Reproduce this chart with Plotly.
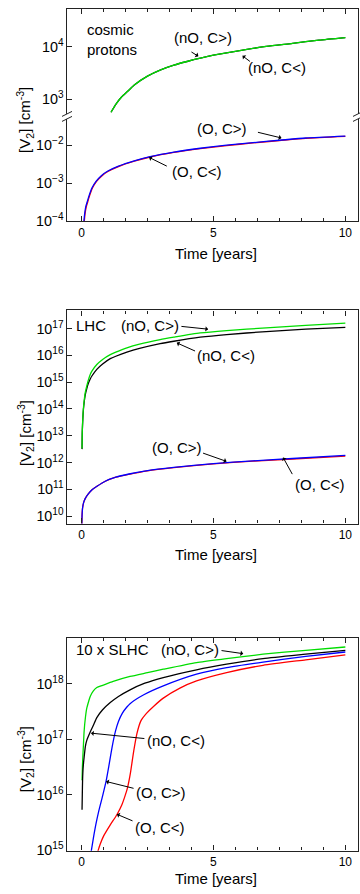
import plotly.graph_objects as go

FONT = "Liberation Sans, Arial, sans-serif"

# ---------------- data (time in years, [V2] in cm^-3) ----------------
# Panel 1: cosmic protons
p1_t_nO = [1.12, 1.3, 1.5, 1.75, 2.0, 2.5, 3.0, 3.5, 4.0, 5.0, 6.0, 7.0, 8.0, 9.0, 10.0]
p1_v_nO_gt = [5.6e2, 7.9e2, 1.07e3, 1.41e3, 1.86e3, 2.75e3, 3.63e3, 4.47e3, 5.25e3, 6.92e3,
              8.51e3, 1.02e4, 1.17e4, 1.35e4, 1.51e4]
p1_v_nO_lt = [5.6e2, 7.9e2, 1.07e3, 1.41e3, 1.86e3, 2.75e3, 3.63e3, 4.47e3, 5.25e3, 6.92e3,
              8.51e3, 1.02e4, 1.17e4, 1.35e4, 1.51e4]
p1_t_O_gt = [0.085, 0.12, 0.16, 0.22, 0.30, 0.40, 0.55, 0.75, 1.0, 1.4, 2.0, 2.6, 3.5, 4.5,
             5.5, 6.5, 7.5, 8.5, 10.0]
p1_v_O_gt = [8.9e-5, 1.58e-4, 2.40e-4, 3.31e-4, 5.01e-4, 7.59e-4, 1.12e-3, 1.58e-3, 2.09e-3,
             2.82e-3, 3.89e-3, 5.01e-3, 6.61e-3, 8.32e-3, 1.00e-2, 1.17e-2, 1.35e-2, 1.55e-2, 1.74e-2]
p1_t_O_lt = [0.10, 0.135, 0.18, 0.24, 0.32, 0.42, 0.57, 0.78, 1.0, 1.4, 2.0, 2.6, 3.5, 4.5,
             5.5, 6.5, 7.5, 8.5, 10.0]
p1_v_O_lt = [8.9e-5, 1.58e-4, 2.40e-4, 3.31e-4, 5.01e-4, 7.59e-4, 1.12e-3, 1.58e-3, 2.04e-3,
             2.75e-3, 3.80e-3, 4.90e-3, 6.46e-3, 8.13e-3, 9.77e-3, 1.15e-2, 1.32e-2, 1.51e-2, 1.70e-2]

# Panel 2: LHC
p2_t_nO = [0.02, 0.03, 0.05, 0.07, 0.1, 0.14, 0.2, 0.25, 0.33, 0.4, 0.58, 0.8, 1.09, 1.3, 1.72,
           2.2, 2.98, 3.5, 4.5, 5.5, 7.0, 8.5, 10.0]
p2_v_nO_gt = [3.31e12, 1.58e13, 4.79e13, 1.00e14, 2.00e14, 3.98e14, 7.24e14, 1.12e15, 1.95e15,
              2.63e15, 4.57e15, 7.08e15, 1.07e16, 1.32e16, 1.91e16, 2.63e16, 3.89e16, 4.79e16,
              6.92e16, 8.51e16, 1.07e17, 1.32e17, 1.62e17]
p2_v_nO_lt = [3.16e12, 1.48e13, 4.27e13, 8.91e13, 1.74e14, 3.31e14, 5.75e14, 8.51e14, 1.32e15,
              1.74e15, 3.02e15, 4.79e15, 7.59e15, 9.33e15, 1.32e16, 1.82e16, 2.75e16, 3.39e16,
              4.79e16, 6.03e16, 7.76e16, 9.55e16, 1.12e17]
p2_t_O = [0.01, 0.02, 0.04, 0.08, 0.14, 0.25, 0.4, 0.6, 0.9, 1.3, 1.8, 2.5, 3.5, 5.0, 6.5, 8.0, 10.0]
p2_v_O_gt = [3.98e9, 1.00e10, 2.00e10, 3.16e10, 4.47e10, 6.61e10, 9.55e10, 1.32e11, 2.00e11,
             2.82e11, 3.72e11, 5.01e11, 6.61e11, 9.12e11, 1.15e12, 1.41e12, 1.86e12]
p2_v_O_lt = [3.98e9, 1.00e10, 2.00e10, 3.16e10, 4.47e10, 6.61e10, 9.55e10, 1.32e11, 2.00e11,
             2.82e11, 3.63e11, 4.90e11, 6.46e11, 8.91e11, 1.12e12, 1.35e12, 1.74e12]

# Panel 3: 10 x SLHC
p3_t_nO_gt = [0.02, 0.035, 0.05, 0.075, 0.1, 0.15, 0.2, 0.27, 0.33, 0.45, 0.58, 0.8, 1.2, 1.84,
              2.5, 3.1, 4.36, 5.5, 6.88, 8.5, 10.0]
p3_v_nO_gt = [1.82e16, 3.16e16, 4.79e16, 8.32e16, 1.41e17, 2.51e17, 3.63e17, 4.79e17, 5.89e17,
              7.41e17, 8.51e17, 9.33e17, 1.10e18, 1.35e18, 1.58e18, 1.82e18, 2.40e18, 2.82e18,
              3.39e18, 3.98e18, 4.57e18]
p3_t_nO_lt = [0.02, 0.03, 0.04, 0.06, 0.1, 0.15, 0.2, 0.33, 0.45, 0.58, 0.8, 1.09, 1.4, 1.84,
              2.4, 3.1, 4.36, 5.5, 6.88, 8.5, 10.0]
p3_v_nO_lt = [5.37e15, 1.00e16, 1.82e16, 3.02e16, 4.79e16, 7.59e16, 9.55e16, 1.35e17, 1.78e17,
              2.45e17, 3.39e17, 4.57e17, 5.89e17, 7.76e17, 1.02e18, 1.29e18, 1.78e18, 2.24e18,
              2.82e18, 3.39e18, 3.98e18]
p3_t_O_gt = [0.35, 0.45, 0.55, 0.66, 0.8, 0.93, 1.03, 1.16, 1.29, 1.4, 1.55, 1.72, 1.84, 2.36,
             3.1, 4.36, 5.5, 6.88, 8.5, 10.0]
p3_v_O_gt = [8.51e14, 1.66e15, 3.02e15, 5.25e15, 9.55e15, 1.74e16, 3.16e16, 7.24e16, 1.41e17,
             2.09e17, 2.95e17, 3.80e17, 4.37e17, 6.31e17, 9.12e17, 1.48e18, 1.95e18, 2.45e18,
             3.09e18, 3.72e18]
p3_t_O_lt = [0.6, 0.7, 0.84, 1.09, 1.34, 1.53, 1.65, 1.75, 1.85, 1.98, 2.1, 2.25, 2.47, 2.75,
             3.1, 3.73, 4.36, 5.5, 6.88, 8.5, 10.0]
p3_v_O_lt = [8.91e14, 1.26e15, 1.82e15, 2.88e15, 4.37e15, 6.61e15, 9.55e15, 1.38e16, 2.40e16,
             6.17e16, 1.26e17, 2.14e17, 2.95e17, 3.98e17, 5.50e17, 8.32e17, 1.12e18, 1.58e18,
             2.14e18, 2.69e18, 3.31e18]

x_ticks = [0, 5, 10]

GREEN, BLACK, BLUE, RED = "#00dd00", "#000000", "#0000ff", "#ff0000"

fig = go.Figure()


def add(t, v, color, xa, ya):
    fig.add_trace(go.Scatter(x=t, y=v, mode="lines", xaxis=xa, yaxis=ya,
                             line=dict(color=color, width=1.3, shape="spline", smoothing=0.6),
                             showlegend=False, hoverinfo="skip"))


# panel 1
add(p1_t_nO, p1_v_nO_lt, BLACK, "x2", "y2")
add(p1_t_nO, p1_v_nO_gt, GREEN, "x2", "y2")
add(p1_t_O_lt, p1_v_O_lt, RED, "x", "y")
add(p1_t_O_gt, p1_v_O_gt, BLUE, "x", "y")
# panel 2
add(p2_t_nO, p2_v_nO_lt, BLACK, "x3", "y3")
add(p2_t_nO, p2_v_nO_gt, GREEN, "x3", "y3")
add(p2_t_O, p2_v_O_lt, RED, "x3", "y3")
add(p2_t_O, p2_v_O_gt, BLUE, "x3", "y3")
# panel 3
add(p3_t_nO_gt, p3_v_nO_gt, GREEN, "x4", "y4")
add(p3_t_nO_lt, p3_v_nO_lt, BLACK, "x4", "y4")
add(p3_t_O_gt, p3_v_O_gt, BLUE, "x4", "y4")
add(p3_t_O_lt, p3_v_O_lt, RED, "x4", "y4")

LC = "#222222"
XR = [-0.55, 10.48]


def xax(anchor, side="bottom", labels=True, mirror=False):
    return dict(range=XR, anchor=anchor, side=side, domain=[0, 1], showline=True, linecolor=LC,
                linewidth=1.3, mirror=mirror, ticks="inside", ticklen=5, tickcolor=LC,
                tickmode="array", tickvals=x_ticks, ticktext=[str(v) for v in x_ticks],
                showticklabels=labels, showgrid=False, zeroline=False,
                tickfont=dict(family=FONT, size=12, color="black"),
                minor=dict(dtick=5 / 6, tick0=0, ticks="inside", ticklen=3, tickcolor=LC,
                           showgrid=False))


def yax(anchor, domain, rng):
    return dict(type="log", range=rng, anchor=anchor, domain=domain, dtick=1,
                exponentformat="power", showline=True, linecolor=LC, linewidth=1.3,
                mirror=True, ticks="inside", ticklen=5, tickcolor=LC, showgrid=False,
                zeroline=False, tickfont=dict(family=FONT, size=11.5, color="black"))


fig.update_layout(
    width=360, height=894, margin=dict(l=67, r=2, t=0, b=0),
    paper_bgcolor="white", plot_bgcolor="white", showlegend=False,
    font=dict(family=FONT, color="black"),
    xaxis=xax("y"),
    xaxis2=xax("y2", side="top", labels=False),
    xaxis3=xax("y3", mirror="allticks"),
    xaxis4=xax("y4", mirror="allticks"),
    yaxis=yax("x", [0.7501, 0.8686], [-4.005, -1.242]),
    yaxis2=yax("x2", [0.8686, 0.9899], [2.668, 4.727]),
    yaxis3=yax("x3", [0.4091, 0.6496], [9.72, 17.68]),
    yaxis4=yax("x4", [0.0399, 0.2804], [14.995, 18.83]),
)

ann = []
TF = dict(family=FONT, size=15, color="black")


def label(text, x, y, xr, yr, anchor="center"):
    ann.append(dict(text=text, x=x, y=y, xref=xr, yref=yr, showarrow=False,
                    xanchor=anchor, yanchor="middle", font=TF, align="left"))


def arrow(hx, hy, tx, ty, xr, yr):
    ann.append(dict(text="", x=hx, y=hy, ax=tx, ay=ty, xref=xr, yref=yr, axref=xr, ayref=yr,
                    showarrow=True, arrowhead=1, arrowsize=0.9, arrowwidth=1,
                    arrowcolor="black", standoff=0, startstandoff=0))


# panel 1
label("cosmic<br>protons", 0.14, 4.14, "x2", "y2", "left")
label("(nO, C&gt;)", 4.62, 4.18, "x2", "y2")
arrow(4.43, 3.82, 4.11, 3.92, "x2", "y2")
label("(nO, C&lt;)", 7.42, 3.61, "x2", "y2")
arrow(6.10, 3.83, 6.44, 3.70, "x2", "y2")
label("(O, C&gt;)", 5.34, -1.55, "x", "y")
arrow(7.58, -1.81, 6.63, -1.65, "x", "y")
label("(O, C&lt;)", 4.38, -2.70, "x", "y")
arrow(2.56, -2.32, 3.29, -2.57, "x", "y")
# panel 2
label("LHC", -0.28, 17.13, "x3", "y3", "left")
label("(nO, C&gt;)", 2.60, 17.13, "x3", "y3")
arrow(4.80, 16.98, 3.73, 17.09, "x3", "y3")
label("(nO, C&lt;)", 5.49, 16.01, "x3", "y3")
arrow(3.61, 16.47, 4.36, 16.14, "x3", "y3")
label("(O, C&gt;)", 3.62, 12.56, "x3", "y3")
arrow(5.50, 12.04, 4.55, 12.37, "x3", "y3")
label("(O, C&lt;)", 9.03, 11.16, "x3", "y3")
arrow(7.64, 12.19, 8.02, 11.51, "x3", "y3")
# panel 3
label("10 x SLHC", -0.28, 18.62, "x4", "y4", "left")
label("(nO, C&gt;)", 4.13, 18.62, "x4", "y4")
arrow(6.13, 18.54, 5.25, 18.60, "x4", "y4")
label("(nO, C&lt;)", 3.58, 16.97, "x4", "y4")
arrow(0.36, 17.11, 2.44, 17.01, "x4", "y4")
label("(O, C&gt;)", 3.01, 16.05, "x4", "y4")
arrow(0.93, 16.24, 2.03, 16.11, "x4", "y4")
label("(O, C&lt;)", 2.96, 15.41, "x4", "y4")
arrow(1.34, 15.65, 1.99, 15.52, "x4", "y4")

# axis titles
YT = "[V<sub>2</sub>] [cm<sup>-3</sup>]"
for yc in (0.8647, 0.5112, 0.1432):
    ann.append(dict(text=YT, x=-0.1443, y=yc, xref="paper", yref="paper", showarrow=False,
                    textangle=-90, xanchor="center", yanchor="middle",
                    font=dict(family=FONT, size=15, color="black")))
for yc in (0.714, 0.3747, 0.0082):
    ann.append(dict(text="Time [years]", x=0.513, y=yc, xref="paper", yref="paper",
                    showarrow=False, xanchor="center", yanchor="middle",
                    font=dict(family=FONT, size=15, color="black")))

fig.update_layout(annotations=ann)

# axis break marks on panel 1
shapes = []
for xa in (0, 1):
    shapes.append(dict(type="rect", xref="paper", yref="paper", xsizemode="pixel",
                       ysizemode="pixel", xanchor=xa, yanchor=0.8686, x0=-3, x1=3, y0=-2.5,
                       y1=2.5, fillcolor="white", line=dict(width=0)))
    for dy in (-2.5, 2.5):
        shapes.append(dict(type="line", xref="paper", yref="paper", xsizemode="pixel",
                           ysizemode="pixel", xanchor=xa, yanchor=0.8686, x0=-5, x1=5,
                           y0=dy - 2.5, y1=dy + 2.5, line=dict(color=LC, width=1)))
fig.update_layout(shapes=shapes)

fig.write_html("out.html", config={"displayModeBar": False},
               post_script="document.body.style.margin='0';document.body.style.overflow='hidden';")
